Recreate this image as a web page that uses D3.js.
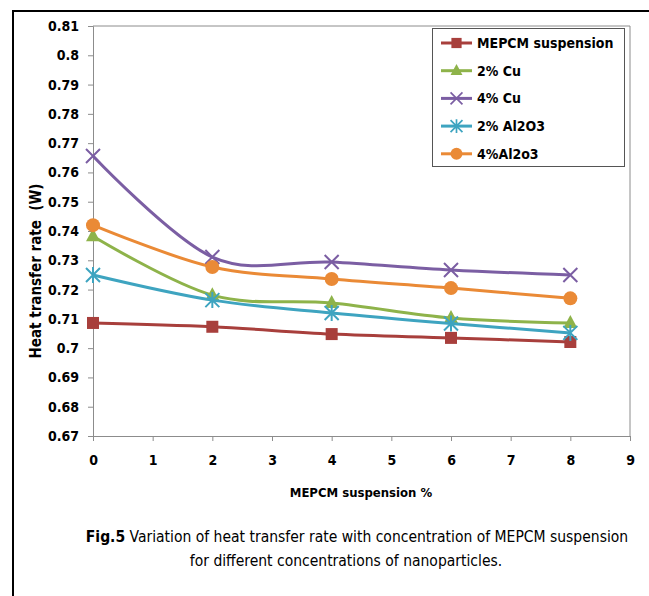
<!DOCTYPE html>
<html>
<head>
    <script src="https://cdnjs.cloudflare.com/ajax/libs/d3/7.8.5/d3.min.js"></script>
    <style>
        body { margin: 0; background: #fff; }
        text { font-family: "Liberation Sans Narrow", "DejaVu Sans Condensed", "Open Sans", sans-serif; }
        .tick text { font-size: 14px; font-weight: bold; fill: #000; }
        .tick line, .domain { stroke: #8c8c8c; }
    </style>
</head>
<body>
    <div id="chart"></div>
    <script>
        const width = 649, height = 596;

        // data
        const xValues = [0, 2, 4, 6, 8];
        const seriesNames = ["MEPCM suspension", "2% Cu", "4% Cu", "2% Al2O3", "4%Al2o3"];
        const mepcm   = [0.7086, 0.7073, 0.7048, 0.7035, 0.7021];
        const cu2     = [0.7382, 0.7181, 0.7154, 0.7103, 0.7086];
        const cu4     = [0.7656, 0.7311, 0.7294, 0.7267, 0.7250];
        const al2o3_2 = [0.7250, 0.7164, 0.7120, 0.7084, 0.7052];
        const al2o3_4 = [0.7420, 0.7277, 0.7236, 0.7205, 0.7170];
        const yTicks = d3.range(0.67, 0.8101, 0.01);
        const xTicks = d3.range(0, 10, 1);

        const colors = ["#a83f3c", "#8eb34a", "#7b5ea3", "#3ea4c0", "#ea8a36"];
        const markers = ["square", "triangle", "x", "star", "circle"];
        const allSeries = [mepcm, cu2, cu4, al2o3_2, al2o3_4];

        const svg = d3.select("#chart").append("svg").attr("width", width).attr("height", height);

        // outer frame
        svg.append("path").attr("d", "M13,597 L13,11 L650,11")
            .attr("fill", "none").attr("stroke", "#000").attr("stroke-width", 2);

        const plotL = 93, plotR = 630, plotT = 26, plotB = 436;
        const x = d3.scaleLinear().domain([0, 9]).range([plotL, plotR]);
        const y = d3.scaleLinear().domain([0.67, 0.81]).range([plotB, plotT]);

        // plot area frame (top and right)
        svg.append("path").attr("d", `M${plotL},${plotT} L${plotR},${plotT} L${plotR},${plotB}`)
            .attr("fill", "none").attr("stroke", "#8c8c8c");

        svg.append("g").attr("transform", `translate(${plotL},0)`)
            .call(d3.axisLeft(y).tickValues(yTicks).tickSize(5).tickPadding(9)
                .tickFormat(d => +d.toFixed(2)));

        svg.append("g").attr("transform", `translate(0,${plotB})`)
            .call(d3.axisBottom(x).tickValues(xTicks).tickSize(5).tickPadding(14));

        // axis titles
        svg.append("text")
            .attr("transform", "translate(41,271) rotate(-90)")
            .attr("text-anchor", "middle")
            .style("white-space", "pre")
            .style("font-size", "15px").style("font-weight", "bold")
            .text("Heat transfer rate  (W)");

        svg.append("text")
            .attr("x", 361).attr("y", 497)
            .attr("text-anchor", "middle")
            .style("font-size", "13px").style("font-weight", "bold")
            .text("MEPCM suspension %");

        // caption
        const cap = svg.append("text").attr("x", 357).attr("y", 542)
            .attr("text-anchor", "middle").style("font-size", "15.5px");
        cap.append("tspan").style("font-weight", "bold").text("Fig.5");
        cap.append("tspan").text(" Variation of heat transfer rate with concentration of MEPCM suspension");
        svg.append("text").attr("x", 346).attr("y", 566)
            .attr("text-anchor", "middle").style("font-size", "15.5px")
            .text("for different concentrations of nanoparticles.");

        function drawMarker(g, type, color) {
            if (type === "square") {
                g.append("rect").attr("x", -6).attr("y", -6).attr("width", 12).attr("height", 12).attr("fill", color);
            } else if (type === "triangle") {
                g.append("path").attr("d", "M0,-8 L7,5 L-7,5 Z").attr("fill", color);
            } else if (type === "circle") {
                g.append("circle").attr("r", 7).attr("fill", color);
            } else if (type === "x") {
                g.append("path").attr("d", "M-7,-7 L7,7 M-7,7 L7,-7")
                    .attr("stroke", color).attr("stroke-width", 2).attr("fill", "none");
            } else if (type === "star") {
                g.append("path").attr("d", "M-7,-7 L7,7 M-7,7 L7,-7 M0,-8 L0,8")
                    .attr("stroke", color).attr("stroke-width", 2).attr("fill", "none");
            }
        }

        const line = d3.line()
            .x((d, i) => x(xValues[i]))
            .y(d => y(d))
            .curve(d3.curveCardinal.tension(0));

        allSeries.forEach((vals, s) => {
            const g = svg.append("g");
            g.append("path").datum(vals).attr("d", line)
                .attr("fill", "none").attr("stroke", colors[s]).attr("stroke-width", 3);
            vals.forEach((v, i) => {
                drawMarker(g.append("g").attr("transform", `translate(${x(xValues[i])},${y(v)})`), markers[s], colors[s]);
            });
        });

        // legend
        const legend = svg.append("g");
        legend.append("rect").attr("x", 432.5).attr("y", 28.5).attr("width", 192).attr("height", 138)
            .attr("fill", "#fff").attr("stroke", "#555");
        seriesNames.forEach((name, s) => {
            const ly = 43 + s * 27.7;
            legend.append("line").attr("x1", 441).attr("x2", 472).attr("y1", ly).attr("y2", ly)
                .attr("stroke", colors[s]).attr("stroke-width", 3);
            drawMarker(legend.append("g").attr("transform", `translate(456.5,${ly}) scale(0.85)`), markers[s], colors[s]);
            legend.append("text").attr("x", 477).attr("y", ly).attr("dy", "0.36em")
                .style("font-size", "14px").style("font-weight", "bold")
                .text(name);
        });
    </script>
</body>
</html>
